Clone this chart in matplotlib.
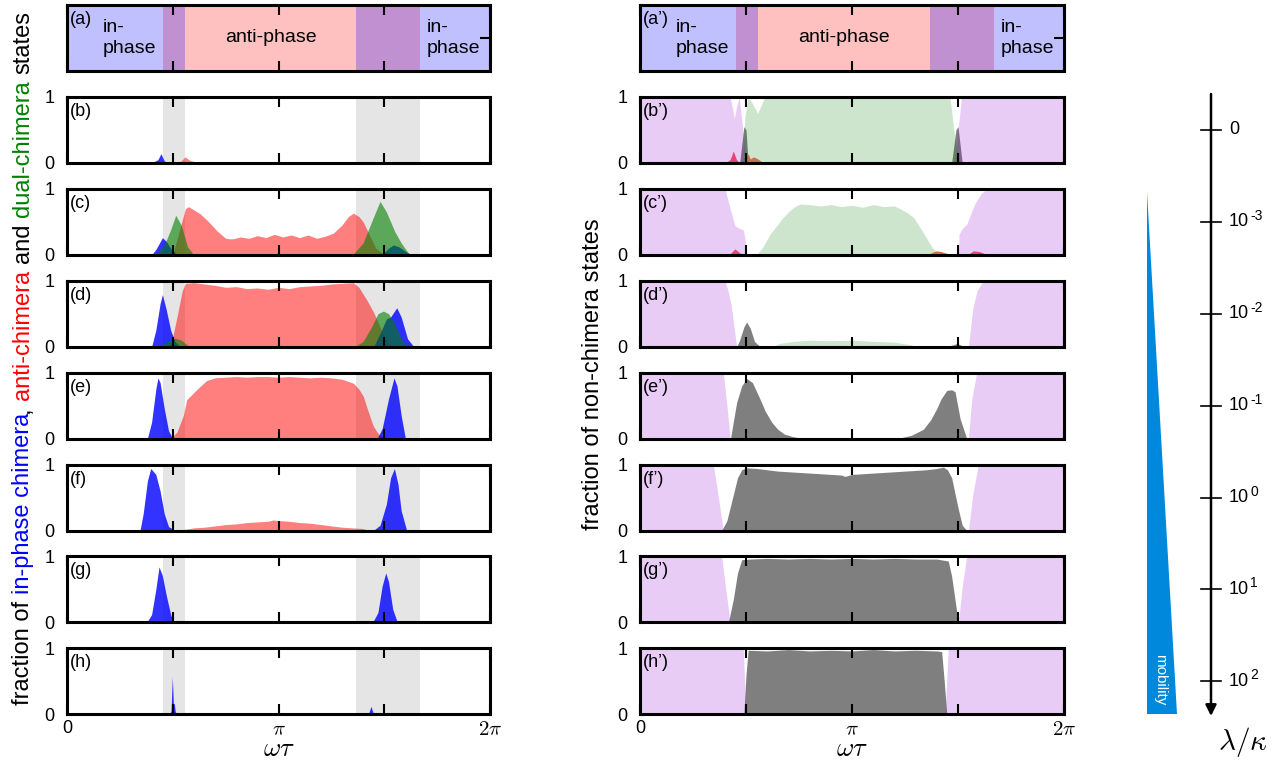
import numpy as np
import matplotlib
matplotlib.use('Agg')
import matplotlib.pyplot as plt
from matplotlib.patches import Polygon

plt.rcParams['font.family'] = ['Liberation Sans', 'DejaVu Sans']
plt.rcParams['mathtext.fontset'] = 'cm'

# %% DATA  (omega*tau in units of pi, values are fractions)

region_edges = [0, 0.454, 0.558, 1.366, 1.669, 2.0]
region_names = ['in-\nphase', '', 'anti-phase', '', 'in-\nphase']
overlap_bands = [(0.454, 0.558), (1.366, 1.669)]

left_labels = ['(b)', '(c)', '(d)', '(e)', '(f)', '(g)', '(h)']
right_labels = ['(b\u2019)', '(c\u2019)', '(d\u2019)', '(e\u2019)', '(f\u2019)', '(g\u2019)', '(h\u2019)']

lam_base = ['0', '10', '10', '10', '10', '10', '10']
lam_exp = ['', '-3', '-2', '-1', '0', '1', '2']

# ---- left column: in-phase chimera (blue), anti-chimera (red), dual-chimera (green)
blue_b = ([0.40, 0.43, 0.444, 0.46, 0.48], [0, 0.05, 0.14, 0.03, 0])
green_b = ([0.42, 0.45, 0.47, 0.50, 0.52, 0.55], [0, 0.03, 0.01, 0.0, 0.02, 0])
red_b = ([0.53, 0.558, 0.58, 0.62], [0, 0.09, 0.04, 0])

blue_c = ([0.40, 0.42, 0.451, 0.47, 0.49, 0.52, 1.49, 1.52, 1.543, 1.57, 1.60, 1.63],
          [0, 0.08, 0.26, 0.20, 0.10, 0, 0, 0.10, 0.15, 0.12, 0.05, 0])
green_c = ([0.42, 0.46, 0.49, 0.514, 0.54, 0.57, 0.60, 1.35, 1.40, 1.44, 1.48, 1.51, 1.55, 1.58, 1.62],
           [0, 0.15, 0.38, 0.60, 0.45, 0.12, 0, 0, 0.18, 0.50, 0.81, 0.65, 0.35, 0.18, 0])
red_c = ([0.50, 0.53, 0.56, 0.574, 0.60, 0.63, 0.67, 0.71, 0.75, 0.78, 0.82, 0.86, 0.90, 0.94, 0.98,
          1.02, 1.06, 1.10, 1.14, 1.18, 1.22, 1.26, 1.30, 1.33, 1.354, 1.38, 1.40, 1.43, 1.46, 1.50],
         [0, 0.35, 0.70, 0.73, 0.68, 0.62, 0.50, 0.36, 0.25, 0.24, 0.27, 0.25, 0.29, 0.26, 0.31,
          0.27, 0.30, 0.26, 0.30, 0.25, 0.28, 0.33, 0.45, 0.58, 0.63, 0.58, 0.50, 0.30, 0.10, 0])

blue_d = ([0.40, 0.42, 0.44, 0.451, 0.47, 0.49, 0.51, 0.535, 1.45, 1.48, 1.51, 1.53, 1.559, 1.58, 1.61, 1.64],
          [0, 0.25, 0.65, 0.79, 0.55, 0.25, 0.08, 0, 0, 0.20, 0.42, 0.45, 0.59, 0.45, 0.12, 0])
green_d = ([0.42, 0.46, 0.49, 0.511, 0.54, 0.58, 1.36, 1.40, 1.44, 1.47, 1.496, 1.52, 1.55, 1.58, 1.61],
           [0, 0.05, 0.10, 0.13, 0.10, 0, 0, 0.08, 0.30, 0.50, 0.54, 0.50, 0.35, 0.12, 0])
red_d = ([0.49, 0.52, 0.545, 0.56, 0.60, 0.65, 0.70, 0.75, 0.80, 0.85, 0.90, 0.95, 1.00, 1.05, 1.10,
          1.15, 1.20, 1.25, 1.30, 1.354, 1.38, 1.417, 1.45, 1.48, 1.50, 1.535],
         [0, 0.45, 0.85, 0.96, 0.97, 0.95, 0.93, 0.90, 0.91, 0.88, 0.89, 0.87, 0.90, 0.88, 0.91,
          0.92, 0.93, 0.95, 0.96, 0.97, 0.90, 0.71, 0.52, 0.30, 0.15, 0])

blue_e = ([0.38, 0.40, 0.42, 0.43, 0.44, 0.46, 0.48, 0.50, 1.466, 1.49, 1.52, 1.546, 1.56, 1.58, 1.60],
          [0, 0.25, 0.75, 0.92, 0.85, 0.45, 0.12, 0, 0, 0.15, 0.60, 0.92, 0.80, 0.35, 0])
green_e = ([0.0, 2.0], [0, 0])
red_e = ([0.49, 0.52, 0.55, 0.566, 0.60, 0.629, 0.66, 0.70, 0.75, 0.80, 0.85, 0.90, 0.95, 1.00, 1.05,
          1.10, 1.15, 1.20, 1.25, 1.30, 1.354, 1.38, 1.401, 1.42, 1.448, 1.47, 1.50],
         [0, 0.10, 0.35, 0.59, 0.70, 0.79, 0.88, 0.92, 0.93, 0.94, 0.93, 0.94, 0.94, 0.93, 0.94,
          0.93, 0.92, 0.93, 0.92, 0.90, 0.84, 0.75, 0.64, 0.45, 0.19, 0.08, 0])

blue_f = ([0.345, 0.36, 0.38, 0.396, 0.42, 0.44, 0.46, 0.48, 0.511, 1.448, 1.48, 1.51, 1.53, 1.548,
           1.565, 1.58, 1.606],
          [0, 0.25, 0.75, 0.94, 0.85, 0.60, 0.25, 0.06, 0, 0, 0.08, 0.40, 0.80, 0.94, 0.70, 0.30, 0])
green_f = ([0.0, 2.0], [0, 0])
red_f = ([0.52, 0.56, 0.60, 0.65, 0.70, 0.75, 0.80, 0.85, 0.90, 0.95, 0.975, 1.00, 1.05, 1.10, 1.15,
          1.20, 1.25, 1.30, 1.35, 1.40, 1.43],
         [0, 0.02, 0.04, 0.05, 0.07, 0.09, 0.10, 0.12, 0.13, 0.14, 0.16, 0.15, 0.14, 0.12, 0.11,
          0.09, 0.07, 0.05, 0.04, 0.03, 0])

blue_g = ([0.377, 0.40, 0.42, 0.435, 0.45, 0.47, 0.49, 0.503, 1.445, 1.47, 1.49, 1.507, 1.52, 1.54, 1.562],
          [0, 0.12, 0.50, 0.84, 0.72, 0.40, 0.12, 0, 0, 0.15, 0.55, 0.75, 0.62, 0.20, 0])
green_g = ([0.0, 2.0], [0, 0])
red_g = ([0.53, 0.70, 0.90, 1.10, 1.30, 1.43], [0, 0.015, 0.02, 0.02, 0.015, 0])

blue_h = ([0.485, 0.492, 0.498, 0.503, 0.507, 0.512, 0.52, 1.425, 1.437, 1.45],
          [0, 0.05, 0.57, 0.15, 0.17, 0.04, 0, 0, 0.12, 0])
green_h = ([0.0, 2.0], [0, 0])
red_h = ([0.53, 0.70, 0.90, 1.10, 1.30, 1.43], [0, 0.01, 0.015, 0.015, 0.01, 0])

# ---- right column: non-chimera states
violet_b = ([0, 0.425, 0.435, 0.445, 0.455, 0.468, 0.485, 0.503, 1.486, 1.50, 1.517, 2.0],
            [1, 1, 0.85, 0.67, 0.85, 1.0, 0.5, 0, 0, 0.5, 1, 1])
lgreen_b = ([0.485, 0.495, 0.51, 0.53, 0.555, 0.575, 0.59, 1.462, 1.48, 1.506],
            [0, 0.7, 1.0, 0.9, 0.75, 0.9, 1.0, 1.0, 0.5, 0])
gray_b = ([0.47, 0.49, 0.50, 0.51, 1.47, 1.49, 1.50, 1.52], [0, 0.55, 0.5, 0, 0, 0.5, 0.55, 0])
pink_b = ([0.40, 0.425, 0.440, 0.455, 0.47], [0, 0.05, 0.18, 0.05, 0])
brown_b = ([0.495, 0.51, 0.52, 0.535, 0.55, 0.565, 0.58], [0, 0.14, 0.06, 0.09, 0.07, 0.04, 0])

violet_c = ([0, 0.401, 0.415, 0.432, 0.448, 0.47, 0.487, 0.495, 0.503, 1.502, 1.505, 1.52, 1.541,
             1.56, 1.58, 1.61, 1.635, 2.0],
            [1, 1, 0.82, 0.62, 0.44, 0.40, 0.38, 0.25, 0, 0, 0.31, 0.40, 0.46, 0.62, 0.78, 0.93, 1.0, 1.0])
lgreen_c = ([0.55, 0.58, 0.613, 0.64, 0.668, 0.70, 0.73, 0.755, 0.80, 0.85, 0.90, 0.95, 1.00, 1.05,
             1.10, 1.15, 1.20, 1.226, 1.26, 1.289, 1.32, 1.352, 1.38, 1.415],
            [0, 0.12, 0.31, 0.42, 0.54, 0.65, 0.73, 0.77, 0.76, 0.74, 0.76, 0.73, 0.75, 0.72,
             0.76, 0.73, 0.74, 0.70, 0.64, 0.57, 0.42, 0.25, 0.10, 0])
gray_c = ([0.0, 2.0], [0, 0])
pink_c = ([0.42, 0.448, 0.47, 0.49, 1.545, 1.572, 1.60, 1.64], [0, 0.09, 0.03, 0, 0, 0.06, 0.05, 0])
brown_c = ([1.36, 1.38, 1.399, 1.42, 1.45, 1.47], [0, 0.04, 0.06, 0.05, 0.02, 0])

violet_d = ([0, 0.401, 0.415, 0.43, 0.456, 1.549, 1.57, 1.59, 1.619, 2.0],
            [1, 1, 0.85, 0.63, 0, 0, 0.58, 0.85, 1, 1])
lgreen_d = ([0.62, 0.66, 0.72, 0.80, 0.90, 1.00, 1.10, 1.20, 1.274, 1.32],
            [0, 0.05, 0.08, 0.10, 0.09, 0.10, 0.08, 0.07, 0.03, 0])
gray_d = ([0.456, 0.47, 0.49, 0.503, 0.52, 0.54, 0.566, 1.44, 1.48, 1.494, 1.51, 1.53],
          [0, 0.10, 0.30, 0.375, 0.28, 0.08, 0, 0, 0.03, 0.05, 0.03, 0])

violet_e = ([0, 0.393, 0.41, 0.425, 1.549, 1.565, 1.588, 2.0], [1, 1, 0.5, 0, 0, 0.6, 1, 1])
gray_e = ([0.427, 0.44, 0.456, 0.48, 0.503, 0.53, 0.566, 0.59, 0.621, 0.65, 0.68, 0.72, 0.755,
           1.226, 1.28, 1.336, 1.37, 1.399, 1.42, 1.447, 1.47, 1.486, 1.51, 1.541],
          [0, 0.25, 0.55, 0.80, 0.91, 0.85, 0.60, 0.42, 0.25, 0.14, 0.07, 0.03, 0.01,
           0.01, 0.05, 0.14, 0.28, 0.45, 0.60, 0.73, 0.74, 0.71, 0.30, 0])

violet_f = ([0, 0.346, 0.37, 0.393, 1.549, 1.57, 1.596, 2.0], [1, 1, 0.5, 0, 0, 0.55, 1, 1])
gray_f = ([0.385, 0.41, 0.44, 0.46, 0.48, 0.50, 0.55, 0.60, 0.65, 0.70, 0.75, 0.80, 0.85, 0.90,
           0.95, 0.967, 1.00, 1.05, 1.10, 1.15, 1.20, 1.25, 1.30, 1.35, 1.40, 1.431, 1.45, 1.47,
           1.501, 1.52, 1.541],
          [0, 0.15, 0.54, 0.80, 0.92, 0.95, 0.94, 0.92, 0.90, 0.89, 0.88, 0.87, 0.86, 0.85,
           0.84, 0.82, 0.85, 0.86, 0.87, 0.88, 0.89, 0.90, 0.91, 0.92, 0.94, 0.96, 0.92, 0.80,
           0.33, 0.08, 0])

violet_g = ([0, 0.385, 0.405, 0.425, 1.502, 1.52, 1.541, 2.0], [1, 1, 0.5, 0, 0, 0.55, 1, 1])
gray_g = ([0.417, 0.44, 0.46, 0.48, 0.52, 0.60, 0.70, 0.80, 0.90, 1.00, 1.10, 1.20, 1.30, 1.40,
           1.454, 1.47, 1.49, 1.502],
          [0, 0.35, 0.75, 0.95, 0.96, 0.97, 0.96, 0.97, 0.96, 0.97, 0.96, 0.97, 0.96, 0.96,
           0.93, 0.70, 0.25, 0])

violet_h = ([0, 0.487, 0.50, 1.439, 1.454, 2.0], [1, 1, 0, 0, 1, 1])
gray_h = ([0.49, 0.50, 0.51, 0.60, 0.70, 0.80, 0.90, 1.00, 1.10, 1.20, 1.30, 1.40, 1.423, 1.435, 1.447],
          [0, 0.60, 0.97, 0.96, 0.98, 0.96, 0.97, 0.96, 0.98, 0.96, 0.97, 0.96, 0.95, 0.50, 0])

left_panels = [
    {'red': red_b, 'blue': blue_b, 'green': green_b},
    {'red': red_c, 'blue': blue_c, 'green': green_c},
    {'red': red_d, 'blue': blue_d, 'green': green_d},
    {'red': red_e, 'blue': blue_e, 'green': green_e},
    {'red': red_f, 'blue': blue_f, 'green': green_f},
    {'red': red_g, 'blue': blue_g, 'green': green_g},
    {'red': red_h, 'blue': blue_h, 'green': green_h},
]
right_panels = [
    {'gray': gray_b, 'violet': violet_b, 'lgreen': lgreen_b, 'pink': pink_b, 'brown': brown_b},
    {'gray': gray_c, 'violet': violet_c, 'lgreen': lgreen_c, 'pink': pink_c, 'brown': brown_c},
    {'gray': gray_d, 'violet': violet_d, 'lgreen': lgreen_d},
    {'gray': gray_e, 'violet': violet_e},
    {'gray': gray_f, 'violet': violet_f},
    {'gray': gray_g, 'violet': violet_g},
    {'gray': gray_h, 'violet': violet_h},
]

# %% STYLE / LAYOUT

styles = {
    'red': dict(color='red', alpha=0.5),
    'blue': dict(color='blue', alpha=0.8),
    'green': dict(color='green', alpha=0.6),
    'gray': dict(color='black', alpha=0.5),
    'violet': dict(color='darkviolet', alpha=0.2),
    'lgreen': dict(color='green', alpha=0.2),
    'pink': dict(color='#e8336e', alpha=0.9),
    'brown': dict(color='#c8643c', alpha=0.9),
}
region_colors = ['#c0c0ff', '#c090d0', '#ffc0c0', '#c090d0', '#c0c0ff']

W, H = 1283, 770
fig = plt.figure(figsize=(W / 100, H / 100), dpi=100)

col_x = [67, 640]
col_w = [423, 424]
row_top0, row_step, row_h = 5, 91.9, 66


def px_axes(x0, top, w, h):
    return fig.add_axes([x0 / W, 1 - (top + h) / H, w / W, h / H])


def style_axes(ax, last):
    ax.set_xlim(0, 2 * np.pi)
    ax.set_ylim(0, 1)
    for s in ax.spines.values():
        s.set_linewidth(2.2)
    ax.set_xticks(np.array([0, 0.5, 1, 1.5, 2]) * np.pi)
    ax.tick_params(axis='x', direction='in', top=True, bottom=True, length=7, width=1.5,
                   labelsize=15, pad=4)
    if last:
        ax.set_xticklabels(['0', '', r'$\pi$', '', r'$2\pi$'])
        ax.get_xticklabels()[0].set_fontsize(13)
        ax.set_xlabel(r'$\omega\tau$', fontsize=19, labelpad=-1)
    else:
        ax.set_xticklabels([])


def plot_col(ci, labels, panels, order, bands):
    # top region panel
    ax = px_axes(col_x[ci], row_top0, col_w[ci], row_h)
    style_axes(ax, False)
    for k in range(len(region_names)):
        a, b = region_edges[k] * np.pi, region_edges[k + 1] * np.pi
        ax.axvspan(a, b, color=region_colors[k], lw=0)
        if region_names[k]:
            if k == 2:
                ax.text((a + b) / 2, 0.5, region_names[k], ha='center', va='center', fontsize=14)
            else:
                ax.text(a + 0.17 * np.pi if k == 0 else a + 0.033 * np.pi, 0.5, region_names[k],
                        ha='left', va='center', fontsize=14, linespacing=1.25)
    ax.set_yticks([0.5])
    ax.set_yticklabels([])
    ax.tick_params(axis='y', left=False, right=True, direction='in', length=7, width=1.5)
    ax.annotate('(a)' if ci == 0 else '(a\u2019)', (0, 1), xycoords='axes fraction',
                xytext=(3, -6), textcoords='offset pixels', ha='left', va='top', fontsize=13)

    for i, (lab, series) in enumerate(zip(labels, panels)):
        top = row_top0 + row_step * (i + 1)
        ax = px_axes(col_x[ci], top, col_w[ci], row_h)
        style_axes(ax, i == len(labels) - 1)
        if bands:
            for a, b in overlap_bands:
                ax.axvspan(a * np.pi, b * np.pi, color='#e5e5e5', lw=0)
        for name in order:
            if name in series:
                x, y = series[name]
                ax.fill_between(np.array(x) * np.pi, y, 0, lw=0, **styles[name])
        ax.set_yticks([0, 1])
        ax.set_yticklabels(['0', '1'])
        ax.tick_params(axis='y', length=0, labelsize=13, pad=9)
        ax.annotate(lab, (0, 1), xycoords='axes fraction', xytext=(3, -6),
                    textcoords='offset pixels', ha='left', va='top', fontsize=13)


plot_col(0, left_labels, left_panels, ['red', 'blue', 'green'], True)
plot_col(1, right_labels, right_panels, ['gray', 'violet', 'lgreen', 'pink', 'brown'], False)

# %% Y LABELS

renderer = fig.canvas.get_renderer()
ylab_size = 17


def text_w(s):
    t = fig.text(0, 0, s + '|', fontsize=ylab_size)
    w = t.get_window_extent(renderer).width
    t.remove()
    return w


ylab_parts = [('fraction of ', 'black'), ('in-phase chimera', 'blue'), (', ', 'black'),
              ('anti-chimera', 'red'), (' and ', 'black'), ('dual-chimera', 'green'),
              (' states', 'black')]
bar_w = text_w('')
full = ''.join(p for p, _ in ylab_parts)
total = text_w(full) - bar_w
y_start = (H - 358) - total / 2
x_base = 29
prefix = ''
for part, col in ylab_parts:
    lead = part[:len(part) - len(part.lstrip())]
    off = text_w(prefix + lead) - bar_w
    fig.text(x_base / W, (y_start + off) / H, part.strip(), color=col, fontsize=ylab_size,
             rotation=90, rotation_mode='anchor', ha='left', va='baseline')
    prefix += part

fig.text(593 / W, 1 - 374 / H, 'fraction of non-chimera states', fontsize=ylab_size,
         rotation=90, ha='center', va='center')

# %% MOBILITY AXIS

ov = fig.add_axes([0, 0, 1, 1])
ov.set_xlim(0, W)
ov.set_ylim(H, 0)
ov.axis('off')

ax_x = 1211
ov.annotate('', xy=(ax_x, 716), xytext=(ax_x, 94),
            arrowprops=dict(arrowstyle='-|>', color='k', lw=1.8, mutation_scale=16,
                            shrinkA=0, shrinkB=0))
for i, (b, e) in enumerate(zip(lam_base, lam_exp)):
    yc = row_top0 + row_step * (i + 1) + row_h / 2
    ov.plot([ax_x - 10, ax_x + 10], [yc, yc], color='k', lw=1.2)
    t = ov.text(ax_x + 18, yc, b, ha='left', va='center', fontsize=13)
    if e:
        ov.annotate(e, xy=(1, 0.85), xycoords=t, xytext=(1, 0), textcoords='offset pixels',
                    ha='left', va='center', fontsize=10)

ov.add_patch(Polygon([(1147, 192), (1147, 714), (1177, 714)], closed=True,
                     facecolor='#0088dd', edgecolor='none'))
ov.text(1160, 680, 'mobility', rotation=-90, color='white', fontsize=11,
        ha='center', va='center')
ov.text(1243, 742, r'$\lambda/\kappa$', fontsize=21, ha='center', va='center')

fig.savefig('out.png', dpi=100)
